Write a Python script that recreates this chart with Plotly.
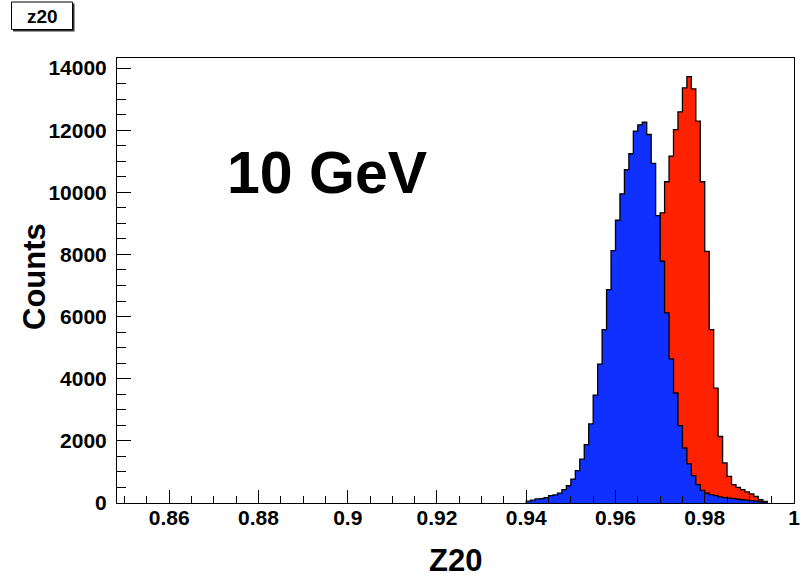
import numpy as np
import plotly.graph_objects as go

# histogram binning (Z20, bin width 0.001)
bin_width = 0.001

# blue histogram: counts per bin, first bin starts at 0.940
blue_start = 0.940
blue_counts = [60, 90, 130, 140, 170, 235, 260, 320, 430, 555,
               770, 1045, 1410, 1880, 2545, 3475, 4470, 5580, 6870, 8120,
               9100, 9950, 10730, 11240, 11970, 12170, 12260, 11860, 10930, 9250,
               7780, 6120, 4640, 3540, 2490, 1770, 1260, 880, 590, 405,
               320, 270, 235, 195, 170, 160, 140, 120, 105, 90,
               75, 60, 40, 25]

# red histogram: counts per bin, first bin starts at 0.955
red_start = 0.955
red_counts = [30, 60, 110, 190, 310, 480, 730, 1080, 1550, 2200,
              3000, 4000, 5200, 6600, 8000, 9340, 10340, 11160, 12020, 12590,
              13360, 13720, 13330, 12290, 10340, 8100, 5580, 3700, 2140, 1290,
              855, 590, 500, 430, 355, 290, 210, 105, 50]

x_tick_labels = ["0.86", "0.88", "0.9", "0.92", "0.94", "0.96", "0.98", "1"]
y_tick_labels = ["0", "2000", "4000", "6000", "8000", "10000", "12000", "14000"]

FONT = "Liberation Sans, Arial, Helvetica, sans-serif"


def step_xy(start, counts):
    edges = start + bin_width * np.arange(len(counts) + 1)
    x = np.concatenate([[edges[0]], edges])
    y = np.concatenate([[0], counts, [0]])
    return x, y


fig = go.Figure()

for start, counts, col in [(red_start, red_counts, "#ff2200"),
                           (blue_start, blue_counts, "#1030ff")]:
    x, y = step_xy(start, counts)
    fig.add_trace(go.Scatter(x=x, y=y, mode="lines", line_shape="hv",
                             fill="tozeroy", fillcolor=col,
                             line=dict(color="black", width=1.3),
                             hoverinfo="skip"))

# plot area in pixels: left 117, right 794, top 58, bottom 503
L, R, T, B = 117, 794, 58, 503


def px(xp):
    return (xp - L) / (R - L)


def py(yp):
    return (B - yp) / (B - T)


fig.update_layout(
    width=801, height=578,
    margin=dict(l=L, r=801 - R, t=T, b=578 - B, autoexpand=False),
    paper_bgcolor="white", plot_bgcolor="white",
    showlegend=False,
    font=dict(family=FONT, color="black"),
)

fig.update_xaxes(
    range=[0.8483, 1.0], showgrid=False, zeroline=False, automargin=False,
    showline=True, linecolor="black", linewidth=1, mirror=True,
    ticks="inside", ticklen=13, tickwidth=1, tickcolor="black",
    tickmode="array", tickvals=[float(t) for t in x_tick_labels], ticktext=x_tick_labels,
    minor=dict(ticks="inside", ticklen=7, tickwidth=1, tickcolor="black",
               dtick=0.005, tick0=0.85, showgrid=False),
    tickfont=dict(family=FONT, size=21, weight="bold"),
    ticklabelstandoff=-4,
)

fig.update_yaxes(
    range=[0, 14322], showgrid=False, zeroline=False, automargin=False,
    showline=True, linecolor="black", linewidth=1, mirror=True,
    ticks="inside", ticklen=14, tickwidth=1, tickcolor="black",
    tickmode="array", tickvals=[int(t) for t in y_tick_labels], ticktext=y_tick_labels,
    minor=dict(ticks="inside", ticklen=9, tickwidth=1, tickcolor="black",
               dtick=500, tick0=0, showgrid=False),
    tickfont=dict(family=FONT, size=21, weight="bold"),
    ticklabelstandoff=5,
)

# axis titles
fig.add_annotation(x=px(455), y=py(560), xref="paper", yref="paper", text="Z20",
                   showarrow=False, xanchor="center", yanchor="middle",
                   font=dict(family=FONT, size=31, weight="bold", color="black"))
fig.add_annotation(x=px(34), y=py(277), xref="paper", yref="paper", text="Counts",
                   textangle=-90, showarrow=False, xanchor="center", yanchor="middle",
                   font=dict(family=FONT, size=31, weight="bold", color="black"))

fig.add_annotation(x=0.8725, y=10630, xref="x", yref="y", text="10 GeV",
                   showarrow=False, xanchor="left", yanchor="middle",
                   font=dict(family=FONT, size=59, weight="bold", color="black"))

# histogram title box with shadow
fig.add_shape(type="rect", xref="paper", yref="paper",
              x0=px(13), x1=px(74.5), y0=py(31.5), y1=py(3.5),
              fillcolor="#333333", line=dict(width=0), layer="above")
fig.add_shape(type="rect", xref="paper", yref="paper",
              x0=px(11.5), x1=px(72.5), y0=py(29.5), y1=py(2),
              fillcolor="white", line=dict(color="black", width=1), layer="above")
fig.add_annotation(x=px(42), y=py(16), xref="paper", yref="paper", text="z20",
                   showarrow=False, xanchor="center", yanchor="middle",
                   font=dict(family=FONT, size=19, weight="bold", color="black"))

fig.write_html("out.html", config={"displayModeBar": False},
               post_script="document.body.style.margin='0px';")
